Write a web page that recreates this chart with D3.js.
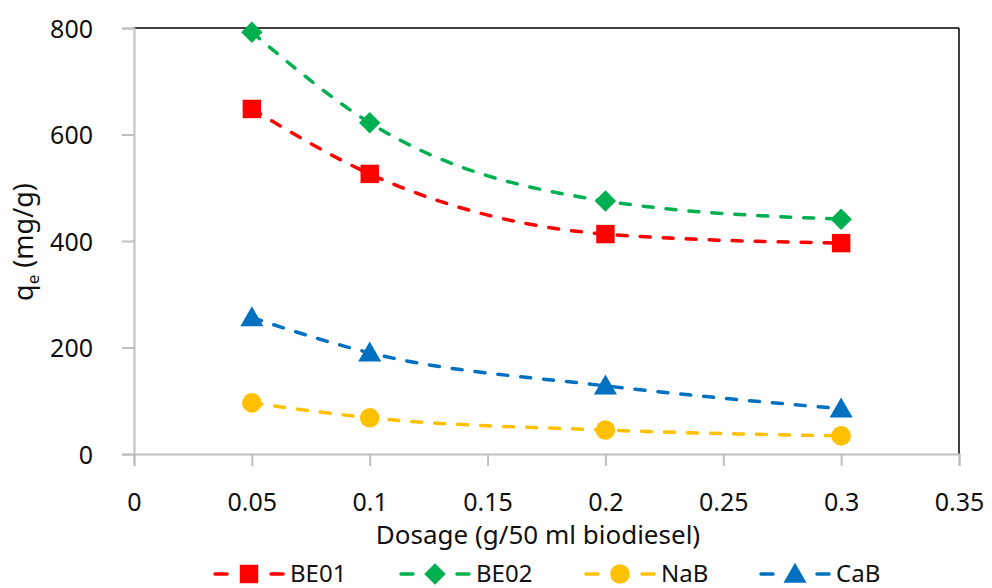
<!DOCTYPE html>
<html>
<head>
<meta charset="utf-8">
<style>
  body { margin: 0; background: #fff; }
  text { font-family: "Noto Sans", "DejaVu Sans", sans-serif; fill: #111; }
</style>
</head>
<body>
<div id="chart"></div>
<script src="https://d3js.org/d3.v7.min.js"></script>
<script>
// data
var dosage = [0.05, 0.1, 0.2, 0.3];
var be01 = [648, 526, 413, 396];
var be02 = [792, 622, 475, 441];
var nab = [96, 68, 45, 34];
var cab = [256, 190, 128, 85];
var xTicks = [0, 0.05, 0.1, 0.15, 0.2, 0.25, 0.3, 0.35];
var yTicks = [0, 200, 400, 600, 800];

var series = [
  {name: "BE01", vals: be01, color: "#ff0000", sym: d3.symbolSquare, size: 340},
  {name: "BE02", vals: be02, color: "#00b050", sym: d3.symbolSquare, size: 230, rot: 45},
  {name: "NaB", vals: nab, color: "#ffc000", sym: d3.symbolCircle, size: 300},
  {name: "CaB", vals: cab, color: "#0070c0", sym: d3.symbolTriangle, size: 230}
];

var width = 992, height = 588;
var margin = {left: 134, right: 33, top: 28, bottom: 134};

var svg = d3.select("#chart").append("svg")
    .attr("width", width)
    .attr("height", height);

var x = d3.scaleLinear().domain([0, 0.35]).range([margin.left, width - margin.right]);
var y = d3.scaleLinear().domain([0, 800]).range([height - margin.bottom, margin.top]);

// plot border top / right
svg.append("line")
    .attr("x1", x(0)).attr("x2", x(0.35))
    .attr("y1", y(800)).attr("y2", y(800))
    .attr("stroke", "#000").attr("stroke-width", 1.5);
svg.append("line")
    .attr("x1", x(0.35)).attr("x2", x(0.35))
    .attr("y1", y(800)).attr("y2", y(0))
    .attr("stroke", "#000").attr("stroke-width", 1.5);

// axes
var xAxis = svg.append("g")
    .attr("transform", "translate(0," + y(0) + ")")
    .call(d3.axisBottom(x).tickValues(xTicks).tickSize(12).tickPadding(27)
      .tickFormat(function(d) { return d3.format("~g")(d); }));
var yAxis = svg.append("g")
    .attr("transform", "translate(" + x(0) + ",0)")
    .call(d3.axisLeft(y).tickValues(yTicks).tickSize(12).tickPadding(29));

[xAxis, yAxis].forEach(function(g) {
  g.select(".domain").attr("stroke", "#bfbfbf").attr("stroke-width", 2);
  g.selectAll(".tick line").attr("stroke", "#bfbfbf").attr("stroke-width", 2);
  g.selectAll(".tick text").attr("font-size", 25).attr("fill", "#111")
    .attr("font-family", "'Noto Sans', sans-serif");
});
yAxis.selectAll(".tick text").attr("dy", "0.36em");

// axis titles
svg.append("text")
    .attr("x", 538).attr("y", 544)
    .attr("text-anchor", "middle")
    .attr("font-size", 26)
    .text("Dosage (g/50 ml biodiesel)");

var yt = svg.append("text")
    .attr("transform", "translate(33,242) rotate(-90)")
    .attr("text-anchor", "middle")
    .attr("font-size", 27);
yt.append("tspan").text("q");
yt.append("tspan").attr("font-size", 17).attr("dy", 6).text("e");
yt.append("tspan").attr("dy", -6).text(" (mg/g)");

// lines
var line = d3.line()
    .x(function(d, i) { return x(dosage[i]); })
    .y(function(d) { return y(d); })
    .curve(d3.curveMonotoneX);

series.forEach(function(s) {
  svg.append("path")
      .attr("d", line(s.vals))
      .attr("fill", "none")
      .attr("stroke", s.color)
      .attr("stroke-width", 3.5)
      .attr("stroke-linecap", "round")
      .attr("stroke-dasharray", "10,13");
});

function marker(g, s, cx, cy) {
  return g.append("path")
      .attr("fill", s.color)
      .attr("transform", "translate(" + cx + "," + cy + ")" + (s.rot ? " rotate(" + s.rot + ")" : ""))
      .attr("d", d3.symbol().type(s.sym).size(s.size)());
}

series.forEach(function(s) {
  var g = svg.append("g");
  s.vals.forEach(function(v, i) {
    var cy = y(v);
    if (s.sym === d3.symbolTriangle) cy += 2;
    marker(g, s, x(dosage[i]), cy);
  });
});

// legend
var legX = [213, 399, 584, 759];
series.forEach(function(s, i) {
  var g = svg.append("g").attr("transform", "translate(" + legX[i] + ",574)");
  g.append("line").attr("x1", 2).attr("x2", 14).attr("y1", 0).attr("y2", 0)
    .attr("stroke", s.color).attr("stroke-width", 3.5).attr("stroke-linecap", "round");
  g.append("line").attr("x1", 58).attr("x2", 70).attr("y1", 0).attr("y2", 0)
    .attr("stroke", s.color).attr("stroke-width", 3.5).attr("stroke-linecap", "round");
  marker(g, s, 36, s.sym === d3.symbolTriangle ? 2 : 0);
  g.append("text").attr("x", 77).attr("y", 8).attr("font-size", 24).text(s.name);
});
</script>
</body>
</html>
